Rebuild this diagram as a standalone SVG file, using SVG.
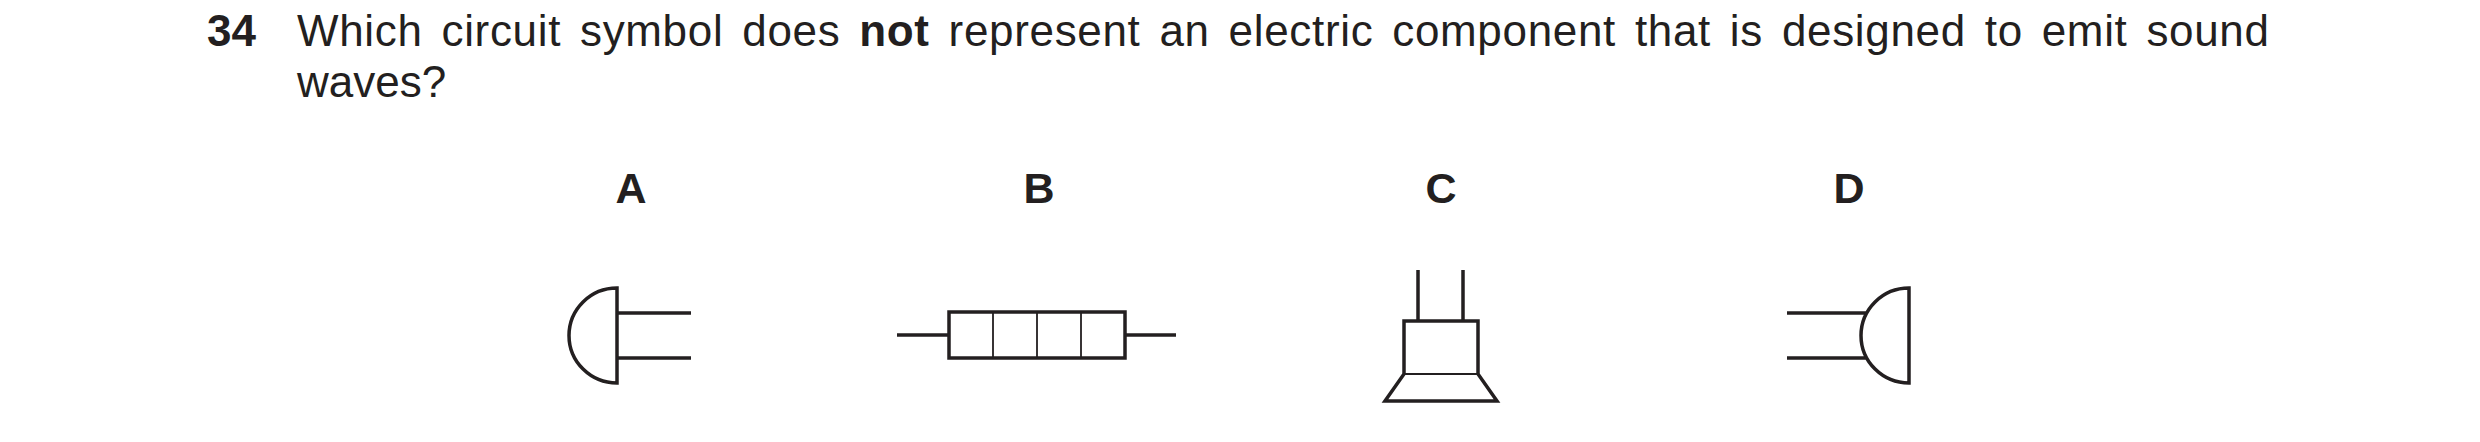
<svg xmlns="http://www.w3.org/2000/svg" width="2480" height="442" viewBox="0 0 2480 442">
<style>
.t{font-family:"Liberation Sans",Arial,sans-serif;font-size:44px;fill:#231f20}
.b{font-weight:bold}
.l{font-family:"Liberation Sans",Arial,sans-serif;font-size:43px;font-weight:bold;fill:#231f20;text-anchor:middle}
.s{fill:none;stroke:#231f20;stroke-width:3.5}
.th{fill:none;stroke:#231f20;stroke-width:1.8}
</style>
<rect width="2480" height="442" fill="#fff"/>
<g id="question">
<text class="t b" x="207" y="46">34</text>
<text class="t" x="297" y="46" textLength="1972" lengthAdjust="spacing" word-spacing="6">Which circuit symbol does <tspan class="b">not</tspan> represent an electric component that is designed to emit sound</text>
<text class="t" x="297" y="97">waves?</text>
</g>
<g transform="translate(-2,0)">
<g id="A">
<text class="l" x="633" y="203">A</text>
<path class="s" d="M619,288 A48,47.5 0 0 0 619,383 Z M619,313 H693 M619,358 H693"/>
</g>
<g id="B">
<text class="l" x="1041" y="203">B</text>
<rect class="s" x="951" y="312" width="176" height="46"/>
<path class="s" d="M899,335 H951 M1127,335 H1178"/>
<path class="th" d="M995,312 V358 M1039,312 V358 M1083,312 V358"/>
</g>
<g id="C">
<text class="l" x="1443" y="203">C</text>
<path class="s" d="M1420,270 V321 M1465,270 V321"/>
<path class="s" d="M1406,374 V321 H1480 V374 L1499,401 H1387 Z"/>
<path class="th" d="M1406,374 H1480"/>
</g>
<g id="D">
<text class="l" x="1851" y="203">D</text>
<path class="s" d="M1911,288 A48,47.5 0 0 0 1911,383 Z M1789,313 H1869 M1789,358 H1869"/>
</g>
</g>
</svg>
